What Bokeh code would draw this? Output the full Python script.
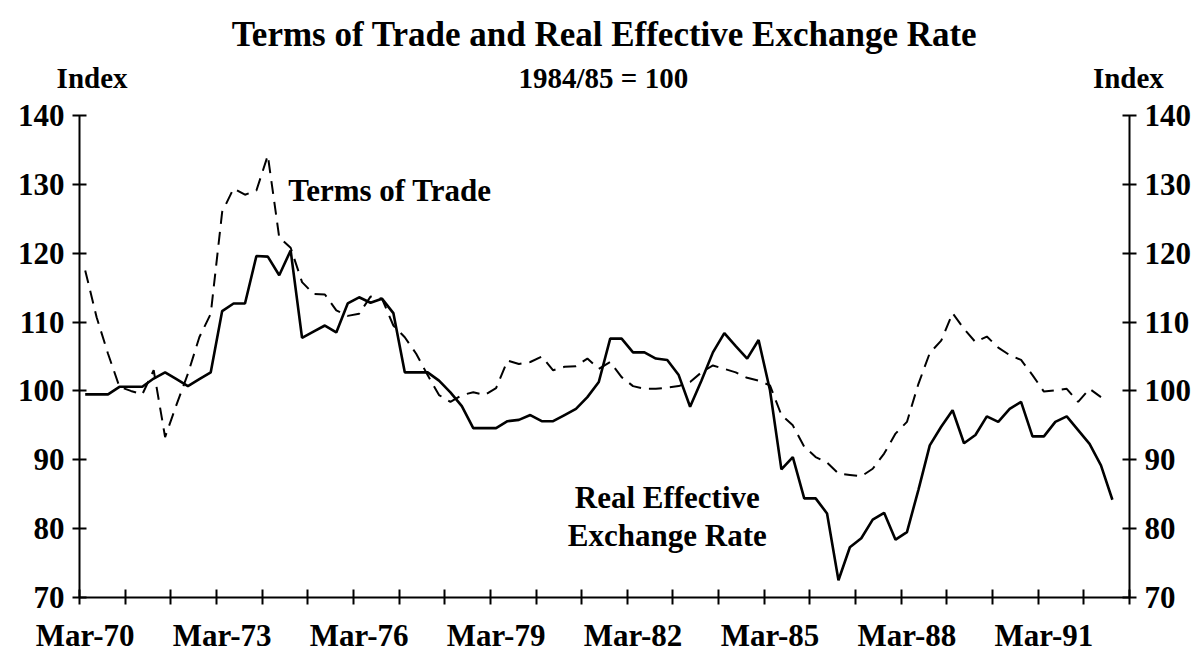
from bokeh.plotting import figure
from bokeh.models import Range1d, LinearAxis, FixedTicker, Label, Title
from bokeh.embed import file_html
from bokeh.resources import INLINE

# ---------------- data ----------------
years = list(range(70, 93))
months = ["Mar", "Jun", "Sep", "Dec"]
quarters = [f"{m}-{y:02d}" for y in years for m in months]  # Mar-70 ... Dec-92

# Real Effective Exchange Rate (solid), Mar-70 .. Sep-92
reer = [99.5, 99.5, 99.5, 100.6, 100.6, 100.6, 101.8, 102.7, 101.7, 100.7,
        101.7, 102.7, 111.6, 112.7, 112.7, 119.6, 119.5, 116.8, 120.4, 107.7,
        108.6, 109.5, 108.5, 112.7, 113.6, 112.8, 113.4, 111.3, 102.7, 102.7,
        102.7, 101.5, 99.8, 97.8, 94.6, 94.6, 94.6, 95.6, 95.8, 96.5,
        95.6, 95.6, 96.5, 97.4, 99.1, 101.3, 107.6, 107.6, 105.6, 105.6,
        104.7, 104.5, 102.3, 97.7, 101.5, 105.6, 108.4, 106.5, 104.7, 107.4,
        100.1, 88.6, 90.4, 84.4, 84.4, 82.2, 72.5, 77.3, 78.6, 81.3,
        82.3, 78.4, 79.5, 85.6, 92.1, 94.8, 97.2, 92.4, 93.6, 96.3,
        95.5, 97.4, 98.4, 93.4, 93.4, 95.5, 96.3, 94.3, 92.3, 89.2,
        84.2]

# Terms of Trade (dashed), Mar-70 .. Jun-92
tot = [117.5, 110.7, 105.4, 100.6, 100.0, 99.5, 103.0, 93.3, 98.0, 102.5,
       107.8, 111.2, 126.0, 129.4, 128.5, 129.1, 134.2, 122.3, 120.8, 115.8,
       114.1, 114.0, 111.7, 110.9, 111.2, 113.7, 113.4, 109.5, 107.8, 105.4,
       102.3, 99.4, 98.4, 99.4, 99.8, 99.4, 100.4, 104.4, 103.9, 104.2,
       105.0, 103.0, 103.5, 103.6, 104.7, 103.2, 104.2, 102.0, 100.7, 100.3,
       100.3, 100.5, 100.7, 101.3, 102.7, 103.7, 103.2, 102.7, 101.9, 101.5,
       100.8, 96.5, 95.0, 91.9, 90.4, 89.6, 88.0, 87.8, 87.6, 88.7,
       90.9, 93.8, 95.5, 101.0, 105.5, 107.3, 111.3, 109.0, 107.1, 107.9,
       106.3, 105.2, 104.5, 102.3, 99.9, 100.1, 100.3, 98.4, 100.3, 99.1]

tick_labels = ["Mar-70", "Mar-73", "Mar-76", "Mar-79", "Mar-82", "Mar-85", "Mar-88", "Mar-91"]
y_ticks = [70, 80, 90, 100, 110, 120, 130, 140]

title_text = "Terms of Trade and Real Effective Exchange Rate"
subtitle_text = "1984/85 = 100"
unit_text = "Index"

# ---------------- figure ----------------
n_cat = len(quarters)
x_reer = list(range(len(reer)))
x_tot = list(range(len(tot)))

SERIF = "Liberation Serif"

p = figure(frame_width=1050, frame_height=482,
           x_range=Range1d(-0.5, n_cat - 0.5), y_range=Range1d(70, 140),
           output_backend="svg", toolbar_location=None,
           x_axis_location=None, y_axis_location=None,
           min_border_left=79, min_border_top=115,
           min_border_right=75, min_border_bottom=60)
p.outline_line_color = None
p.background_fill_color = "white"
p.border_fill_color = "white"
p.grid.visible = False

# bottom axis: tick marks at year boundaries, labels on March categories
label_pos = [quarters.index(t) for t in tick_labels]
year_bounds = [i - 0.5 for i in range(0, n_cat + 1, 4)]
xaxis = LinearAxis(ticker=FixedTicker(ticks=label_pos, minor_ticks=year_bounds))
xaxis.major_label_overrides = {pos: lab for pos, lab in zip(label_pos, tick_labels)}
xaxis.major_tick_in = 0
xaxis.major_tick_out = 0
xaxis.minor_tick_in = 8
xaxis.minor_tick_out = 7
xaxis.minor_tick_line_width = 2
xaxis.minor_tick_line_color = "black"
xaxis.axis_line_width = 2
xaxis.axis_line_color = "black"
xaxis.major_label_standoff = 13
xaxis.major_label_text_font = SERIF
xaxis.major_label_text_font_style = "bold"
xaxis.major_label_text_font_size = "31px"
xaxis.major_label_text_color = "black"
p.add_layout(xaxis, "below")

for side in ("left", "right"):
    ax = LinearAxis(ticker=FixedTicker(ticks=y_ticks))
    ax.major_tick_in = 7
    ax.major_tick_out = 7
    ax.major_tick_line_width = 2
    ax.major_tick_line_color = "black"
    ax.minor_tick_line_color = None
    ax.axis_line_width = 2
    ax.axis_line_color = "black"
    ax.major_label_standoff = 8
    ax.major_label_text_font = SERIF
    ax.major_label_text_font_style = "bold"
    ax.major_label_text_font_size = "31px"
    ax.major_label_text_color = "black"
    p.add_layout(ax, side)

# top row of texts ("Index", subtitle, "Index") as an unlined axis
top_pos = [0.6, 45.4, 91.4]
top_txt = [unit_text, subtitle_text, unit_text]
topaxis = LinearAxis(ticker=FixedTicker(ticks=top_pos))
topaxis.major_label_overrides = {pos: t for pos, t in zip(top_pos, top_txt)}
topaxis.axis_line_color = None
topaxis.major_tick_line_color = None
topaxis.minor_tick_line_color = None
topaxis.major_tick_out = 0
topaxis.major_tick_in = 0
topaxis.major_label_standoff = 22
topaxis.major_label_text_font = SERIF
topaxis.major_label_text_font_style = "bold"
topaxis.major_label_text_font_size = "29px"
topaxis.major_label_text_color = "black"
p.add_layout(topaxis, "above")

title = Title(text=title_text, align="center", text_font=SERIF,
              text_font_style="bold", text_font_size="35px",
              text_color="black", standoff=9)
p.add_layout(title, "above")

# series
p.line(x_tot, tot, line_color="black", line_width=2, line_dash="13 8")
p.line(x_reer, reer, line_color="black", line_width=2.6)

# in-plot annotations
def add_label(x, y, text, size, align="center"):
    p.add_layout(Label(x=x, y=y, x_units="data", y_units="data", text=text,
                       text_font=SERIF, text_font_style="bold",
                       text_font_size=size, text_align=align,
                       text_baseline="alphabetic", text_color="black"))

add_label(17.8, 129.1, "Terms of Trade", "31px", align="left")
add_label(51.0, 84.5, "Real Effective", "31px")
add_label(51.0, 79.0, "Exchange Rate", "31px")

open("out.html", "w").write(file_html(p, INLINE))
